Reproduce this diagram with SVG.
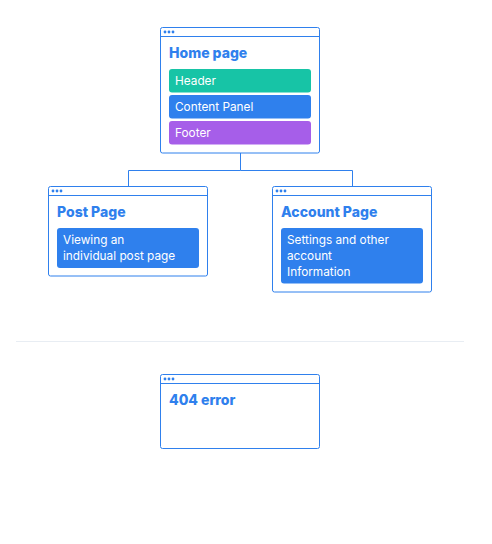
<svg xmlns="http://www.w3.org/2000/svg" width="492" height="544" viewBox="0 0 492 544">
  <style>
    .frame { fill: #ffffff; stroke: #2f80ed; stroke-width: 1; }
    .bar { stroke: #2f80ed; stroke-width: 1; }
    .dot { fill: #2f80ed; }
    .title { font-family: Inter, "Liberation Sans", sans-serif; font-weight: 800; font-size: 14px; fill: #2f80ed; }
    .label { font-family: Inter, "Liberation Sans", sans-serif; font-size: 11.8px; fill: #ffffff; }
    .wire { fill: none; stroke: #2f80ed; stroke-width: 1; }
  </style>
  <defs>
    <g id="dots">
      <circle class="dot" cx="0" cy="0" r="1.4"/>
      <circle class="dot" cx="4" cy="0" r="1.4"/>
      <circle class="dot" cx="8" cy="0" r="1.4"/>
    </g>
  </defs>
  <rect width="492" height="544" fill="#ffffff"/>

  <g id="connectors">
    <path class="wire" d="M240.5 153 V170.5 H128.5 V187 M240.5 170.5 H352.5 V187"/>
  </g>

  <g id="home">
    <rect class="frame" x="160.5" y="27.5" width="159" height="125.5" rx="2"/>
    <line class="bar" x1="160.5" y1="36.5" x2="319.5" y2="36.5"/>
    <use href="#dots" x="165" y="32"/>
    <text class="title" x="169" y="58">Home page</text>
    <rect x="169" y="69" width="142" height="23.5" rx="3" fill="#17c4a6"/>
    <text class="label" x="175" y="85">Header</text>
    <rect x="169" y="95" width="142" height="23.5" rx="3" fill="#2f80ed"/>
    <text class="label" x="175" y="111">Content Panel</text>
    <rect x="169" y="121" width="142" height="23.5" rx="3" fill="#a65ee9"/>
    <text class="label" x="175" y="137">Footer</text>
  </g>

  <g id="post">
    <rect class="frame" x="48.5" y="186.5" width="159" height="89.5" rx="2"/>
    <line class="bar" x1="48.5" y1="195.5" x2="207.5" y2="195.5"/>
    <use href="#dots" x="53" y="191"/>
    <text class="title" x="57" y="217">Post Page</text>
    <rect x="57" y="228" width="142" height="40" rx="3" fill="#2f80ed"/>
    <text class="label" x="63" y="244">Viewing an</text>
    <text class="label" x="63" y="260">individual post page</text>
  </g>

  <g id="account">
    <rect class="frame" x="272.5" y="186.5" width="159" height="105.5" rx="2"/>
    <line class="bar" x1="272.5" y1="195.5" x2="431.5" y2="195.5"/>
    <use href="#dots" x="277" y="191"/>
    <text class="title" x="281" y="217">Account Page</text>
    <rect x="281" y="228" width="142" height="55.5" rx="3" fill="#2f80ed"/>
    <text class="label" x="287" y="244">Settings and other</text>
    <text class="label" x="287" y="260">account</text>
    <text class="label" x="287" y="276">Information</text>
  </g>

  <line id="divider" x1="16" y1="341.5" x2="464" y2="341.5" stroke="#e8edf3" stroke-width="1"/>

  <g id="error404">
    <rect class="frame" x="160.5" y="374.5" width="159" height="74" rx="2"/>
    <line class="bar" x1="160.5" y1="383.5" x2="319.5" y2="383.5"/>
    <use href="#dots" x="165" y="379"/>
    <text class="title" x="169" y="405">404 error</text>
  </g>
</svg>
